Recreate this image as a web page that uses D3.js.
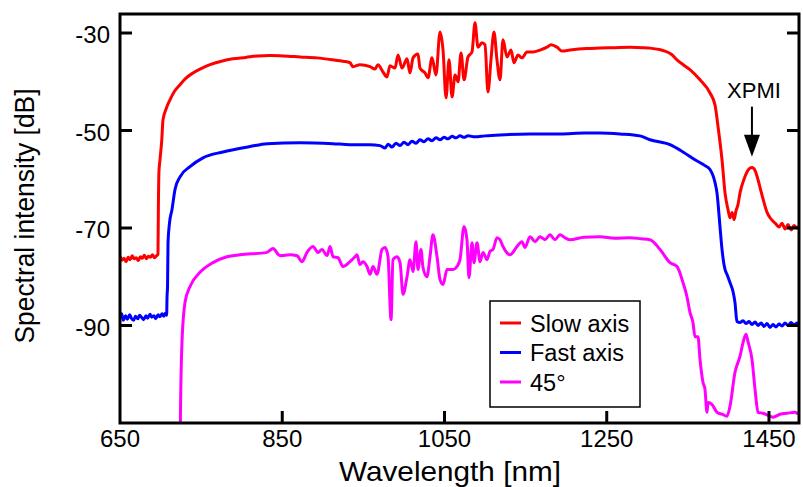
<!DOCTYPE html>
<html><head><meta charset="utf-8">
<script src="https://cdn.jsdelivr.net/npm/d3@7"></script>
<style>body{margin:0;background:#fff;} svg{display:block;font-family:"Liberation Sans",Arial,Helvetica,sans-serif;}</style>
</head><body><svg id="c" width="803" height="487"></svg>
<script>
const xTicks = [650, 850, 1050, 1250, 1450];
const yTicks = [-30, -50, -70, -90];
const xLabel = "Wavelength [nm]";
const yLabel = "Spectral intensity [dB]";
const seriesNames = ["Slow axis", "Fast axis", "45°"];
const seriesColors = ["#ff0000", "#0000ff", "#ff00ff"];

const slowAxis = [
[650,-75.8],[652.5,-76.6],[655,-76.2],[657.5,-76.9],[660,-76.0],[662.5,-76.5],[665,-75.7],[667.5,-76.3],[670,-76.1],[672.5,-76.7],[675,-75.9],[677.5,-76.2],[680,-75.6],[682.5,-76.3],[685,-75.8],[687.5,-76.0],[690,-75.5],[692.5,-76.1],[695,-75.7],[696.8,-75.4],
[697.3,-66],[698,-58.5],[699.3,-56.0],[701.5,-51.9],[703,-47.8],[707,-45.5],[711.6,-43.7],[717,-42.0],[724,-40.6],[731,-39.3],[740,-38.2],[750,-37.3],[761,-36.5],[775,-35.8],[789,-35.3],[805,-35.0],[819,-34.7],[835,-34.6],[851,-34.7],[872,-34.9],[893,-35.1],[912.6,-35.5],[925,-35.8],
[933.5,-36.1],[937.2,-36.9],[945.8,-36.5],[958.2,-36.9],[964.3,-37.4],[968,-36.5],[974.2,-38.0],[979.1,-39.0],[982.8,-36.7],[989,-37.2],[992.7,-34.5],[997.6,-37.2],[1003.8,-35.3],[1007.5,-38.2],[1011.2,-35.1],[1017.3,-34.3],[1019.8,-37.2],[1026,-38.2],[1029.7,-39.2],[1034.6,-35.1],[1039.5,-38.6],[1044.5,-29.8],[1048.2,-33.5],[1051.9,-43.3],[1055.6,-35.5],[1059.3,-43.1],[1063,-38.6],[1066.7,-40.0],[1070.4,-34.1],[1074.1,-39.6],[1079,-34.9],[1083.9,-33.9],[1087.6,-27.9],[1091.3,-32.9],[1096.2,-32.0],[1099.9,-32.4],[1103.6,-42.1],[1107.3,-35.5],[1111,-29.8],[1114.7,-35.5],[1118.4,-39.6],[1122.1,-31.4],[1127,-34.9],[1132,-33.5],[1135.7,-36.1],[1140.6,-34.5],[1145.5,-35.1],[1151.7,-33.9],[1159.1,-33.9],[1167.7,-33.5],[1176.4,-32.9],[1181.3,-32.4],[1188.7,-32.9],[1194.9,-33.7],[1204.7,-33.5],
[1225,-33.2],[1241.7,-33.1],[1260,-33.0],[1278.7,-32.9],[1295,-33.0],[1303.3,-33.1],[1315,-33.4],[1321.8,-33.7],[1330,-34.4],[1336.6,-35.5],[1345,-36.6],[1352.6,-37.5],[1365,-39.6],[1377.3,-42.3],[1383.5,-44.8],[1387.2,-49.2],[1392.1,-56.0],[1395.8,-62.8],[1399.5,-66.2],[1402,-67.9],[1404.5,-66.8],[1407,-68.3],[1409.3,-66.5],[1411.8,-65.2],[1414.3,-62.8],[1419.2,-60.0],[1422.9,-58.5],[1426.6,-57.7],[1429.1,-57.6],[1432.8,-58.2],[1436.5,-60.1],[1440.2,-62.5],[1443.9,-64.8],[1447.6,-66.8],[1451.3,-67.9],[1455,-68.6],[1458.7,-69.2],[1462.4,-69.8],[1466,-69.0],[1469.8,-70.2],[1473.5,-69.3],[1477.2,-70.4],[1480.9,-69.5],[1484.6,-70.0],[1487,-69.6]
];

const fastAxis = [
[650,-88.4],[652,-87.6],[654,-88.9],[657,-88.0],[659,-88.7],[662,-87.8],[664,-88.5],[667,-88.9],[669,-88.1],[672,-88.6],[674,-87.9],[677,-88.4],[679,-88.8],[682,-88.0],[684,-88.5],[687,-87.7],[689,-88.3],[692,-88.0],[694,-88.6],[697,-87.8],[699,-88.2],[702,-87.6],[704,-88.1],[706,-87.5],[707.5,-87.9],
[708,-84],[708.6,-82],[709.2,-73],[711,-69],[714.1,-66.2],[717.8,-62.1],[724,-59.5],[736.3,-57.4],[752.3,-55.6],[777,-54.4],[810.3,-53.3],[831.2,-52.7],[871.9,-52.5],[912.6,-52.7],[933.5,-52.9],[958,-52.9],[970.5,-53.1],
[976.7,-53.6],[980.4,-52.8],[985.3,-53.4],[990.2,-52.6],[995.2,-53.1],[1000.1,-52.4],[1005,-52.9],[1010,-52.2],[1014.9,-52.6],[1019.8,-51.9],[1024.7,-52.3],[1029.7,-51.7],[1034.6,-52.1],[1039.5,-51.5],[1044.5,-51.9],[1049.4,-51.4],[1054.3,-51.7],[1059.3,-51.2],[1064.2,-51.5],[1069.1,-51.1],[1074.1,-51.4],[1079,-51.1],[1087.6,-51.3],[1100,-51.1],[1118.4,-50.9],[1155.4,-50.7],[1192.4,-50.7],[1223,-50.5],[1241.7,-50.5],[1266.4,-50.7],[1291,-51.1],[1303.3,-51.9],[1328,-52.9],[1344,-54.4],[1358.8,-56.0],[1371.1,-57.2],[1377.3,-58.0],[1383.5,-60.7],[1385.9,-62.8],[1389.6,-69.7],[1392.1,-74.4],[1395.8,-78.5],[1398.2,-79.5],[1401.9,-81.2],[1405.6,-83.0],[1408.1,-85.3],[1410.5,-89.2],
[1414.3,-89.4],[1418,-89.0],[1421.7,-89.6],[1425.4,-89.2],[1429.1,-89.8],[1432.8,-89.3],[1436.5,-90.0],[1440.2,-89.5],[1443.9,-90.2],[1447.6,-89.6],[1451.3,-90.4],[1455,-89.8],[1458.7,-90.3],[1462.4,-89.7],[1466,-90.1],[1469.8,-89.5],[1473.5,-90.0],[1477.2,-89.4],[1480.9,-89.9],[1484.6,-89.5],[1487,-89.8]
];

const deg45 = [
[724,-120],[724.5,-109],[726.4,-93.5],[730.1,-85.3],[736.3,-82.0],[748.6,-79.1],[764.6,-77.1],[781.9,-75.9],[797.9,-75.5],[831.2,-75.0],[838.6,-74.2],[847.2,-75.7],[859.6,-75.5],[868.2,-75.7],[874.4,-76.9],[880.5,-75.0],[887.9,-73.8],[894.1,-75.0],[899,-74.4],[905.2,-75.7],[908.9,-73.8],[912.6,-75.9],[918.7,-76.1],[924.9,-77.9],[933.5,-76.9],[939.7,-75.9],[942.2,-75.5],[945.8,-77.5],[949.5,-76.9],[954.5,-77.9],[958.2,-79.5],[961.9,-77.9],[966.8,-79.5],[973.0,-74.4],[976.7,-74.0],[980.4,-75.9],[984.1,-88.8],[986.5,-76.5],[991.5,-75.9],[995.2,-77.1],[998.9,-83.6],[1003.8,-80.0],[1007.5,-76.5],[1011.2,-78.9],[1014.9,-72.8],[1017.3,-78.5],[1021.0,-74.4],[1023.5,-78.1],[1028.4,-80.0],[1032.1,-75.9],[1035.8,-71.4],[1040.8,-75.9],[1044.5,-80.6],[1048.2,-81.6],[1053.1,-78.5],[1060.5,-78.5],[1065.4,-77.9],[1069.1,-76.5],[1074.1,-69.7],[1077.7,-72.4],[1080.2,-80.2],[1083.9,-73.0],[1086.4,-77.1],[1090.1,-73.0],[1093.8,-76.9],[1097.5,-75.0],[1102.4,-76.5],[1106.1,-74.8],[1109.8,-74.4],[1114.7,-72.0],[1118.4,-72.4],[1122.1,-73.8],[1130.8,-75.5],[1139.4,-73.8],[1145.5,-72.8],[1149.2,-74.0],[1155.4,-71.8],[1161.6,-72.8],[1167.7,-71.8],[1173.9,-72.4],[1180.1,-71.4],[1186.2,-72.4],[1192.4,-71.4],[1198.5,-72.0],[1204.7,-72.4],[1222,-71.9],[1241.7,-71.8],[1260,-72.1],[1278.7,-72.0],[1292,-72.2],[1303.3,-72.4],[1315.7,-74.4],[1328.0,-77.1],[1336.6,-77.9],[1344.0,-81.2],[1348.9,-84.1],[1352.6,-87.3],[1356.3,-89.4],[1358.8,-92.3],[1362.5,-92.3],[1365.0,-97.0],[1368.7,-101.7],[1371.1,-103.1],[1373.6,-107.8],[1374.8,-105.8],[1379.8,-106.2],[1385.9,-107.8],[1392.1,-108.2],[1398.2,-108.6],[1401.9,-106.6],[1408.1,-99.6],[1414.3,-96.3],[1418.0,-93.5],[1421.7,-91.8],[1424.1,-93.3],[1429.1,-97.0],[1432.8,-103.1],[1436.5,-107.8],[1442.6,-108.0],[1451.3,-108.6],[1455.0,-108.8],[1463.6,-108.2],[1472.2,-108.0],[1482.1,-107.8],[1485.8,-108.2]
];

const annotation = { label: "XPMI", x: 1429, yText: -43.3, yStart: -45.1, yTip: -55.4 };

const W = 803, H = 487;
const margin = { left: 120, right: 4, top: 14, bottom: 64 };
const svg = d3.select("#c");
const x = d3.scaleLinear().domain([650, 1487]).range([margin.left, W - margin.right]);
const y = d3.scaleLinear().domain([-110, -26.1]).range([H - margin.bottom, margin.top]);
const [x0, x1] = x.range(), [y0, y1] = y.range();

svg.append("defs").append("clipPath").attr("id", "clip")
  .append("rect").attr("x", x0).attr("y", y1).attr("width", x1 - x0).attr("height", y0 - y1);

const line = d3.line().x(d => x(d[0])).y(d => y(d[1])).curve(d3.curveMonotoneX);
const series = [slowAxis, fastAxis, deg45];
const g = svg.append("g").attr("clip-path", "url(#clip)");
series.forEach((s, i) => {
  g.append("path").datum(s).attr("d", line).attr("fill", "none")
    .attr("stroke", seriesColors[i]).attr("stroke-width", 3).attr("stroke-linejoin", "round");
});

// Frame
svg.append("rect").attr("x", x0).attr("y", y1).attr("width", x1 - x0).attr("height", y0 - y1)
  .attr("fill", "none").attr("stroke", "#000").attr("stroke-width", 3);

// Y ticks (left and right, inward)
const tickLen = 12;
yTicks.forEach(v => {
  svg.append("line").attr("x1", x0).attr("x2", x0 + tickLen).attr("y1", y(v)).attr("y2", y(v)).attr("stroke", "#000").attr("stroke-width", 3);
  svg.append("line").attr("x1", x1).attr("x2", x1 - tickLen).attr("y1", y(v)).attr("y2", y(v)).attr("stroke", "#000").attr("stroke-width", 3);
  svg.append("text").attr("x", x0 - 10).attr("y", y(v) + 10).attr("text-anchor", "end")
    .attr("font-size", 24).attr("fill", "#000").text(String(v));
});
// X ticks
xTicks.forEach(v => {
  if (v > x.domain()[0]) {
    svg.append("line").attr("x1", x(v)).attr("x2", x(v)).attr("y1", y0).attr("y2", y0 - tickLen).attr("stroke", "#000").attr("stroke-width", 3);
  }
  svg.append("text").attr("x", x(v)).attr("y", y0 + 24).attr("text-anchor", "middle")
    .attr("font-size", 24).attr("fill", "#000").text(String(v));
});

// Axis labels
svg.append("text").attr("x", 450).attr("y", 481).attr("text-anchor", "middle")
  .attr("font-size", 28).attr("textLength", 222).attr("lengthAdjust", "spacingAndGlyphs").text(xLabel);
svg.append("text").attr("transform", "translate(34,216) rotate(-90)").attr("text-anchor", "middle")
  .attr("font-size", 28).attr("textLength", 255).attr("lengthAdjust", "spacingAndGlyphs").text(yLabel);

// Legend
const lg = svg.append("g").attr("transform", "translate(490,301)");
lg.append("rect").attr("width", 150).attr("height", 106).attr("fill", "#fff").attr("stroke", "#000").attr("stroke-width", 1.5);
seriesNames.forEach((n, i) => {
  const cy = 22 + i * 29.5;
  lg.append("line").attr("x1", 10).attr("x2", 31).attr("y1", cy).attr("y2", cy).attr("stroke", seriesColors[i]).attr("stroke-width", 3);
  lg.append("text").attr("x", 40).attr("y", cy + 8.5).attr("font-size", 23.5).attr("fill", "#000").text(n);
});

// Annotation
svg.append("text").attr("x", x(annotation.x) + 2).attr("y", y(annotation.yText)).attr("text-anchor", "middle")
  .attr("font-size", 22).text(annotation.label);
const ax = x(annotation.x), ys = y(annotation.yStart), yt = y(annotation.yTip);
svg.append("line").attr("x1", ax).attr("x2", ax).attr("y1", ys).attr("y2", yt - 18).attr("stroke", "#000").attr("stroke-width", 2);
svg.append("path").attr("d", `M${ax - 8},${yt - 22} L${ax + 8},${yt - 22} L${ax},${yt} Z`).attr("fill", "#000");
</script></body></html>
